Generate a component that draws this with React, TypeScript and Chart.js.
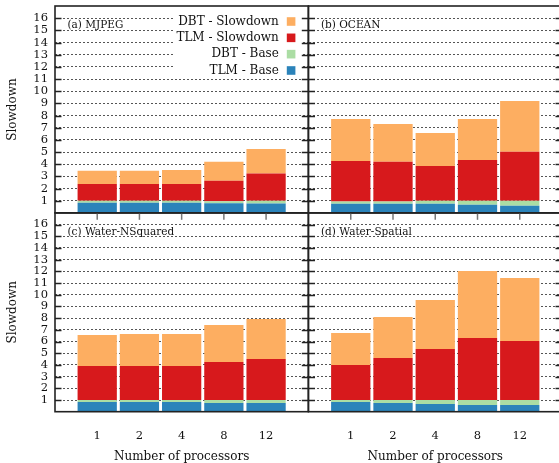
import React, { useEffect, useRef } from 'react';
import { Chart, registerables } from 'chart.js';

Chart.register(...registerables);

// ---------- data ----------
const PROCESSORS = ['1', '2', '4', '8', '12'];
const SERIES_LABELS = ['TLM - Base', 'DBT - Base', 'TLM - Slowdown', 'DBT - Slowdown'];
const SERIES_COLORS = ['#2b83ba', '#abdda4', '#d7191c', '#fdae61'];
const PANEL_TITLES = ['(a) MJPEG', '(b) OCEAN', '(c) Water-NSquared', '(d) Water-Spatial'];
const Y_MAX = 17;

// cumulative level (top of each stacked segment)
const MJPEG_TLM_BASE = [0.84, 0.84, 0.84, 0.8, 0.78];
const MJPEG_DBT_BASE = [1.0, 1.0, 1.0, 0.96, 1.0];
const MJPEG_TLM_SLOW = [2.39, 2.39, 2.39, 2.64, 3.24];
const MJPEG_DBT_SLOW = [3.46, 3.46, 3.54, 4.2, 5.26];

const OCEAN_TLM_BASE = [0.75, 0.75, 0.75, 0.67, 0.59];
const OCEAN_DBT_BASE = [0.95, 0.95, 1.0, 1.0, 1.0];
const OCEAN_TLM_SLOW = [4.28, 4.2, 3.87, 4.36, 5.02];
const OCEAN_DBT_SLOW = [7.72, 7.31, 6.57, 7.72, 9.2];

const WNSQ_TLM_BASE = [0.83, 0.83, 0.83, 0.74, 0.74];
const WNSQ_DBT_BASE = [1.0, 1.0, 1.0, 1.0, 1.0];
const WNSQ_TLM_SLOW = [3.91, 3.91, 3.91, 4.25, 4.5];
const WNSQ_DBT_SLOW = [6.56, 6.64, 6.64, 7.41, 7.92];

const WSPA_TLM_BASE = [0.83, 0.74, 0.66, 0.57, 0.57];
const WSPA_DBT_BASE = [1.0, 1.0, 1.0, 1.0, 1.0];
const WSPA_TLM_SLOW = [3.99, 4.59, 5.36, 6.3, 6.04];
const WSPA_DBT_SLOW = [6.73, 8.09, 9.55, 12.03, 11.43];

const LEVELS = [
  [MJPEG_TLM_BASE, MJPEG_DBT_BASE, MJPEG_TLM_SLOW, MJPEG_DBT_SLOW],
  [OCEAN_TLM_BASE, OCEAN_DBT_BASE, OCEAN_TLM_SLOW, OCEAN_DBT_SLOW],
  [WNSQ_TLM_BASE, WNSQ_DBT_BASE, WNSQ_TLM_SLOW, WNSQ_DBT_SLOW],
  [WSPA_TLM_BASE, WSPA_DBT_BASE, WSPA_TLM_SLOW, WSPA_DBT_SLOW],
];

// ---------- layout ----------
const W = 565;
const H = 463;
const FONT = 'DejaVu Serif';
const TEXT = '#111';

type Area = { left: number; top: number; right: number; bottom: number };
const AREAS: Area[] = [
  { left: 55, top: 6, right: 308.3, bottom: 213 },
  { left: 308.5, top: 6, right: 562, bottom: 213 },
  { left: 55, top: 212.8, right: 308.3, bottom: 411.7 },
  { left: 308.5, top: 212.8, right: 562, bottom: 411.7 },
];

Chart.defaults.font.family = FONT;

const decoPlugin = {
  id: 'deco',
  afterDatasetsDraw(chart: any, _args: any, opts: any) {
    const { ctx, chartArea } = chart;
    if (opts.legend) {
      ctx.save();
      ctx.fillStyle = '#ffffff';
      ctx.fillRect(chartArea.right - 135, chartArea.top + 5, 128, 66);
      ctx.font = `12px ${FONT}`;
      ctx.textAlign = 'right';
      ctx.textBaseline = 'middle';
      const ds = chart.data.datasets;
      for (let k = 0; k < ds.length; k++) {
        const d = ds[ds.length - 1 - k];
        const y = chartArea.top + 15.5 + k * 16.33;
        ctx.fillStyle = TEXT;
        ctx.fillText(d.label, chartArea.right - 29.5, y);
        ctx.fillStyle = d.backgroundColor;
        ctx.fillRect(chartArea.right - 21.5, y - 4.3, 8.6, 8.6);
      }
      ctx.restore();
    }
  },
  afterDraw(chart: any, _args: any, opts: any) {
    const { ctx, chartArea } = chart;
    const ys = chart.scales.y;
    const xs = chart.scales.x;
    ctx.save();
    // inward y ticks on both sides
    ctx.strokeStyle = '#222';
    ctx.lineWidth = 1.3;
    for (let v = 1; v < Y_MAX; v++) {
      const py = Math.round(ys.getPixelForValue(v)) + 0.5;
      ctx.beginPath();
      ctx.moveTo(chartArea.left, py);
      ctx.lineTo(chartArea.left + 6.5, py);
      ctx.moveTo(chartArea.right - 6.5, py);
      ctx.lineTo(chartArea.right, py);
      ctx.stroke();
    }
    // x ticks hanging from the top edge (lower panels)
    if (opts.topTicks) {
      ctx.strokeStyle = '#777';
      ctx.lineWidth = 1.5;
      for (let i = 1; i <= PROCESSORS.length; i++) {
        const px = xs.getPixelForValue(i);
        ctx.beginPath();
        ctx.moveTo(px, chartArea.top);
        ctx.lineTo(px, chartArea.top + 7);
        ctx.stroke();
      }
    }
    // frame
    ctx.strokeStyle = '#222';
    ctx.lineWidth = 1.6;
    ctx.strokeRect(chartArea.left, chartArea.top, chartArea.right - chartArea.left, chartArea.bottom - chartArea.top);
    // panel label
    ctx.fillStyle = TEXT;
    ctx.font = `10.5px ${FONT}`;
    ctx.textAlign = 'left';
    ctx.textBaseline = 'middle';
    ctx.fillText(opts.title, chartArea.left + 12.5, chartArea.top + 19);
    ctx.restore();
  },
};

function buildChart(canvas: HTMLCanvasElement, p: number) {
  const a = AREAS[p];
  const showY = p % 2 === 0;
  const showX = p >= 2;
  const levels = LEVELS[p];
  const datasets = levels.map((lv, s) => ({
    label: SERIES_LABELS[s],
    data: [null, ...lv.map((v, i) => (s === 0 ? v : +(v - levels[s - 1][i]).toFixed(3))), null],
    backgroundColor: SERIES_COLORS[s],
    borderWidth: 0,
    categoryPercentage: 1,
    barPercentage: 0.93,
    stack: 'all',
  }));
  return new Chart(canvas, {
    type: 'bar',
    data: { labels: ['', ...PROCESSORS, ''], datasets: datasets as any },
    plugins: [decoPlugin as any],
    options: {
      animation: false,
      responsive: false,
      maintainAspectRatio: false,
      devicePixelRatio: 1,
      events: [],
      layout: {
        padding: {
          left: showY ? 0 : a.left,
          top: a.top,
          right: W - a.right,
          bottom: showX ? 0 : H - a.bottom,
        },
      },
      plugins: {
        legend: { display: false },
        tooltip: { enabled: false },
        deco: { title: PANEL_TITLES[p], legend: p === 0, topTicks: showX },
      } as any,
      scales: {
        x: {
          type: 'category',
          stacked: true,
          offset: false,
          display: showX,
          grid: { display: false },
          border: { display: false },
          ticks: {
            autoSkip: false,
            maxRotation: 0,
            padding: 9.5,
            color: TEXT,
            font: { family: FONT, size: 11.5 },
          },
          title: {
            display: true,
            text: 'Number of processors',
            padding: 0,
            color: TEXT,
            font: { family: FONT, size: 12, lineHeight: 1 },
          },
          afterFit: (s: any) => {
            s.height = showX ? H - a.bottom : 0;
            s.paddingLeft = 0;
            s.paddingRight = 0;
          },
        },
        y: {
          type: 'linear',
          stacked: true,
          min: 0,
          max: Y_MAX,
          display: true,
          ticks: {
            display: showY,
            stepSize: 1,
            autoSkip: false,
            padding: 7,
            color: TEXT,
            font: { family: FONT, size: 11.5 },
            callback: (v: any) => (v > 0 && v < Y_MAX ? String(v) : ''),
          },
          grid: {
            drawTicks: false,
            lineWidth: 1,
            color: (c: any) => (c.tick && c.tick.value > 0 && c.tick.value < Y_MAX ? '#555' : 'rgba(0,0,0,0)'),
          },
          border: { display: false, dash: [2, 2] },
          title: {
            display: showY,
            text: 'Slowdown',
            color: TEXT,
            padding: { top: 5.3, bottom: 0 },
            font: { family: FONT, size: 12, lineHeight: 1.2 },
          },
          afterFit: (s: any) => {
            s.width = showY ? a.left : 0;
            s.paddingTop = 0;
            s.paddingBottom = 0;
          },
        },
      } as any,
    },
  });
}

export default function App() {
  const refs = [useRef<HTMLCanvasElement>(null), useRef<HTMLCanvasElement>(null), useRef<HTMLCanvasElement>(null), useRef<HTMLCanvasElement>(null)];
  useEffect(() => {
    const charts = refs.map((r, i) => buildChart(r.current as HTMLCanvasElement, i));
    return () => charts.forEach((c) => c.destroy());
  }, []);
  return (
    <div style={{ position: 'absolute', left: 0, top: 0, width: 559, height: 463, overflow: 'hidden', background: '#fff' }}>
      {refs.map((r, i) => (
        <canvas
          key={i}
          ref={r}
          width={W}
          height={H}
          style={{ position: 'absolute', left: 0, top: 0, width: W, height: H }}
        />
      ))}
    </div>
  );
}
